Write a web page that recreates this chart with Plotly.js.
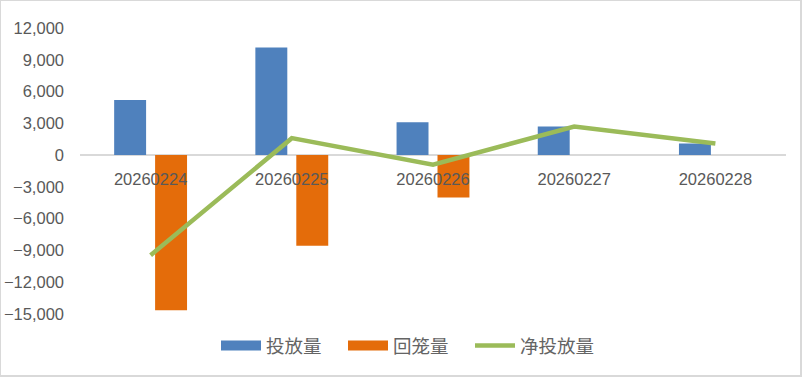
<!DOCTYPE html>
<html>
<head>
<meta charset="utf-8">
<script src="https://cdn.plot.ly/plotly-3.0.1.min.js"></script>
<style>
  html, body { margin: 0; padding: 0; background: #ffffff; }
  #wrap { position: relative; width: 802px; height: 377px; }
  #chart { width: 802px; height: 377px; }
  #frame { position: absolute; left: 0; top: 0; width: 802px; height: 377px; box-sizing: border-box;
           border-top: 1px solid #d9d9d9; border-left: 1px solid #d9d9d9;
           border-right: 2px solid #d9d9d9; border-bottom: 2px solid #d9d9d9; pointer-events: none; }
</style>
</head>
<body>
<div id="wrap">
  <div id="chart"></div>
  <div id="frame"></div>
</div>
<script>
const categories = ["20260224", "20260225", "20260226", "20260227", "20260228"];
const injection = [5200, 10150, 3100, 2700, 1100];      // 投放量
const withdrawal = [-14650, -8550, -4000, 0, 0];       // 回笼量
const netInjection = [-9450, 1600, -900, 2700, 1100];  // 净投放量
const seriesNames = ["投放量", "回笼量", "净投放量"];
const yTicks = [-15000, -12000, -9000, -6000, -3000, 0, 3000, 6000, 9000, 12000];

const BLUE = "#4f81bd", ORANGE = "#e46c0a", GREEN = "#9bbb59";
const TXT = "#595959";
const numFont = { family: "Liberation Sans, Arial, sans-serif", size: 16.5, color: TXT };

const traces = [
  { type: "bar", x: categories, y: injection, marker: { color: BLUE }, showlegend: false, hoverinfo: "x+y" },
  { type: "bar", x: categories, y: withdrawal, marker: { color: ORANGE }, showlegend: false, hoverinfo: "x+y" },
  { type: "scatter", mode: "lines", x: categories, y: netInjection,
    line: { color: GREEN, width: 4.5, shape: "linear" }, showlegend: false },
  // legend entries
  { type: "scatter", mode: "lines", x: [null], y: [null], name: seriesNames[0], line: { color: BLUE, width: 10 } },
  { type: "scatter", mode: "lines", x: [null], y: [null], name: seriesNames[1], line: { color: ORANGE, width: 10 } },
  { type: "scatter", mode: "lines", x: [null], y: [null], name: seriesNames[2], line: { color: GREEN, width: 4.5 } }
];

const layout = {
  width: 802, height: 377,
  margin: { l: 80, r: 16, t: 28, b: 63 },
  paper_bgcolor: "#ffffff", plot_bgcolor: "#ffffff",
  barmode: "group", bargap: 0.42, bargroupgap: 0.22,
  showlegend: true,
  legend: { orientation: "h", x: (216 - 80) / 706, xanchor: "left", y: -0.112, yanchor: "middle",
            font: { family: "Noto Sans CJK SC, sans-serif", size: 18.5, color: "#646464" },
            itemwidth: 40, entrywidth: 72, entrywidthmode: "pixels", traceorder: "normal" },
  xaxis: {
    type: "category", range: [-0.5, 4.5], anchor: "free", position: 15 / 27,
    showline: false, showgrid: false, zeroline: false, ticks: "",
    ticklabelstandoff: 12, tickfont: numFont, fixedrange: true
  },
  yaxis: {
    range: [-15000, 12000], tickvals: yTicks, tickformat: ",d",
    showgrid: false, showline: false, zeroline: true, zerolinecolor: "#d9d9d9", zerolinewidth: 2,
    ticks: "", ticklabelstandoff: 15, tickfont: numFont, fixedrange: true
  }
};

Plotly.newPlot("chart", traces, layout, { displayModeBar: false, staticPlot: true });
</script>
</body>
</html>
